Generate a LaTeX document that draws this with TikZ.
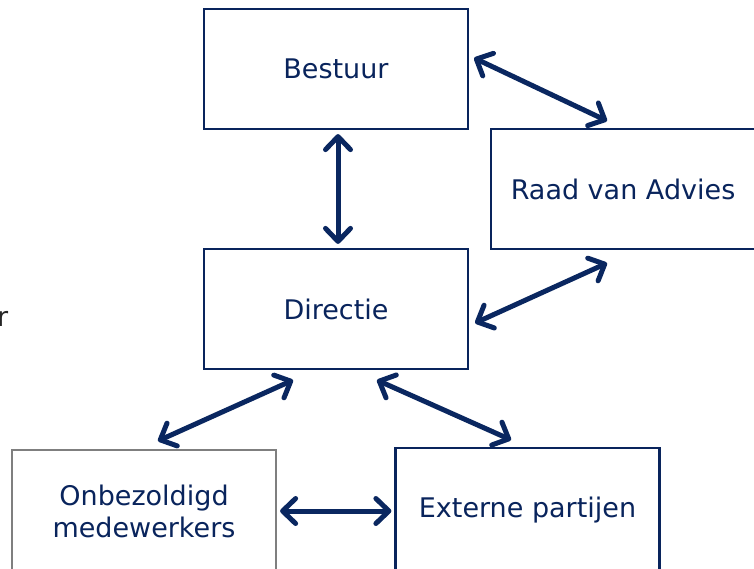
\documentclass[tikz,border=0pt]{standalone}
\usepackage{fontspec}
\setmainfont{DejaVu Sans}
\usetikzlibrary{arrows.meta,calc}
\definecolor{navy}{HTML}{09245C}
\definecolor{arrnavy}{HTML}{0A2760}
\definecolor{boxgray}{HTML}{7F7F7F}
\begin{document}
\begin{tikzpicture}[x=1pt,y=-1pt,
  box/.style={draw=navy,line width=2.2pt,minimum width=264pt,minimum height=120pt,inner sep=0pt,
    font=\fontsize{27}{32}\selectfont,text=navy,align=center,fill=white},
  graybox/.style={box,draw=boxgray},
  arr/.style={draw=arrnavy,line width=5pt,
    {Straight Barb[length=13pt,width=25pt,line cap=round,line join=round]}-{Straight Barb[length=13pt,width=25pt,line cap=round,line join=round]}}]
\useasboundingbox (0,0) rectangle (754,568);
\node[box] (bestuur) at (336,69) {Bestuur};
\node[box] (raad) at (623,189) {Raad van Advies};
\node[box] (directie) at (336,309) {Directie};
\node[graybox,minimum height=122pt] (onbez) at (144,511) {Onbezoldigd\\medewerkers};
\node[box,minimum height=124pt] (extern) at (527.5,510) {Externe partijen};
\node[anchor=base west,inner sep=0pt,text=black!85,font=\fontsize{27}{32}\selectfont] (rfrag) at (-3,326) {r};
\draw[arr] ([xshift=2pt,yshift=-4pt]bestuur.south) -- ([xshift=2pt,yshift=4pt]directie.north);
\draw[arr] ([xshift=5pt,yshift=11pt]bestuur.east) -- ([xshift=-16pt,yshift=7pt]raad.north);
\draw[arr] ([xshift=-16pt,yshift=-13pt]raad.south) -- ([xshift=6pt,yshift=-14pt]directie.east);
\draw[arr] ([xshift=-43pt,yshift=-10pt]directie.south) -- ([xshift=14pt,yshift=8pt]onbez.north);
\draw[arr] ([xshift=41pt,yshift=-10pt]directie.south) -- ([xshift=-16.5pt,yshift=7pt]extern.north);
\draw[arr] ([xshift=3pt]onbez.east) -- ([xshift=-3pt,yshift=-1pt]extern.west);
\end{tikzpicture}
\end{document}
